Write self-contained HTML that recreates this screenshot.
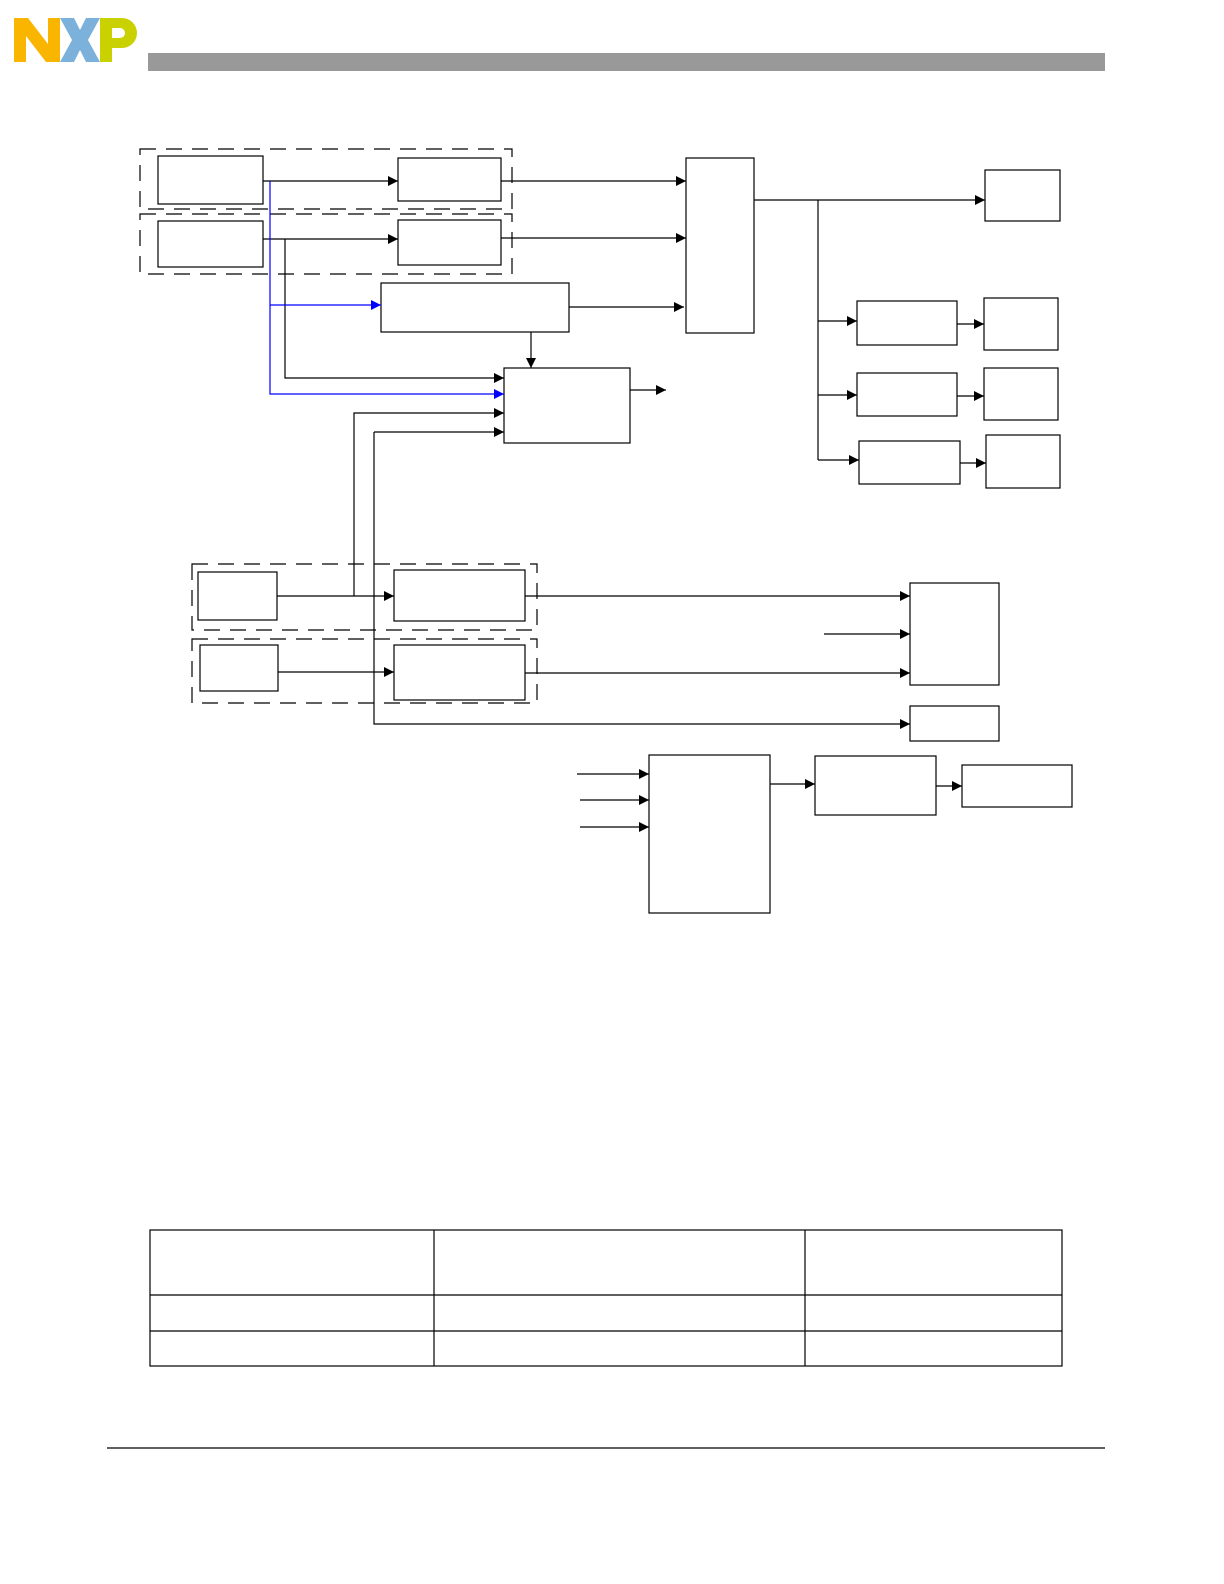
<!DOCTYPE html><html><head><style>html,body{margin:0;padding:0;width:1224px;height:1584px;overflow:hidden;background:#fff}svg{display:block}</style></head><body>
<svg width="1224" height="1584" viewBox="0 0 1224 1584" xmlns="http://www.w3.org/2000/svg">
<defs>
<marker id="a" viewBox="0 0 10 10" refX="10" refY="5" markerWidth="10" markerHeight="10" markerUnits="userSpaceOnUse" orient="auto"><path d="M0,0L10,5L0,10z" fill="#000"/></marker>
<marker id="b" viewBox="0 0 10 10" refX="10" refY="5" markerWidth="10" markerHeight="10" markerUnits="userSpaceOnUse" orient="auto"><path d="M0,0L10,5L0,10z" fill="#00f"/></marker>
</defs>
<polygon points="14,18 28,18 48,44 48,18 60,18 60,62 46,62 26,36 26,62 14,62" fill="#f9b500"/>
<polygon points="60,18 74,18 80,30 86,18 100,18 88,40 100,62 86,62 80,50 74,62 60,62 72,40" fill="#7bb1db"/>
<path d="M100,18 H122 A15,15 0 0 1 122,48 H112 V62 H100 Z M112,28 V38 H120 A5,5 0 0 0 120,28 Z" fill="#c9d200" fill-rule="evenodd"/>
<rect x="148" y="53" width="957" height="18" fill="#999"/>
<g fill="none" stroke="#000" stroke-width="1.2">
<g stroke-dasharray="16,10">
<rect x="140" y="149" width="372" height="60"/><rect x="140" y="214" width="372" height="60"/>
<rect x="192" y="564" width="345" height="66"/><rect x="192" y="639" width="345" height="64"/>
</g>
<rect x="158" y="156" width="105" height="48"/><rect x="398" y="158" width="103" height="43"/>
<rect x="158" y="221" width="105" height="46"/><rect x="398" y="220" width="103" height="45"/>
<rect x="381" y="283" width="188" height="49"/><rect x="504" y="368" width="126" height="75"/>
<rect x="686" y="158" width="68" height="175"/><rect x="985" y="170" width="75" height="51"/>
<rect x="857" y="301" width="100" height="44"/><rect x="984" y="298" width="74" height="52"/>
<rect x="857" y="373" width="100" height="43"/><rect x="984" y="368" width="74" height="52"/>
<rect x="859" y="441" width="101" height="43"/><rect x="986" y="435" width="74" height="53"/>
<rect x="198" y="572" width="79" height="48"/><rect x="394" y="570" width="131" height="51"/>
<rect x="200" y="645" width="78" height="46"/><rect x="394" y="645" width="131" height="55"/>
<rect x="910" y="583" width="89" height="102"/><rect x="910" y="706" width="89" height="35"/>
<rect x="649" y="755" width="121" height="158"/><rect x="815" y="756" width="121" height="59"/>
<rect x="962" y="765" width="110" height="42"/>
<path d="M263,181H398" marker-end="url(#a)"/><path d="M263,239H398" marker-end="url(#a)"/>
<path d="M285,239V378H504" marker-end="url(#a)"/>
<path d="M501,181H686" marker-end="url(#a)"/><path d="M501,238H686" marker-end="url(#a)"/>
<path d="M569,307H684" marker-end="url(#a)"/><path d="M531,332V368" marker-end="url(#a)"/>
<path d="M630,390H666" marker-end="url(#a)"/>
<path d="M754,200H985" marker-end="url(#a)"/><path d="M818,200V460"/>
<path d="M818,321H857" marker-end="url(#a)"/><path d="M818,395H857" marker-end="url(#a)"/><path d="M818,460H859" marker-end="url(#a)"/>
<path d="M957,324H984" marker-end="url(#a)"/><path d="M957,396H984" marker-end="url(#a)"/><path d="M960,463H986" marker-end="url(#a)"/>
<path d="M354,596V413H504" marker-end="url(#a)"/>
<path d="M374,432H504" marker-end="url(#a)"/><path d="M374,432V724H910" marker-end="url(#a)"/>
<path d="M277,596H394" marker-end="url(#a)"/><path d="M278,672H394" marker-end="url(#a)"/>
<path d="M525,596H910" marker-end="url(#a)"/><path d="M525,673H910" marker-end="url(#a)"/>
<path d="M824,634H910" marker-end="url(#a)"/>
<path d="M577,774H649" marker-end="url(#a)"/><path d="M580,800H649" marker-end="url(#a)"/><path d="M580,827H649" marker-end="url(#a)"/>
<path d="M770,784H815" marker-end="url(#a)"/><path d="M936,786H962" marker-end="url(#a)"/>
<rect x="150" y="1230" width="912" height="136"/>
<path d="M150,1295H1062M150,1331H1062M434,1230V1366M805,1230V1366"/>
<path d="M107,1448H1105"/>
</g>
<g fill="none" stroke="#00f" stroke-width="1.2">
<path d="M270,181V394H504" marker-end="url(#b)"/><path d="M270,305H381" marker-end="url(#b)"/>
</g>
</svg></body></html>
